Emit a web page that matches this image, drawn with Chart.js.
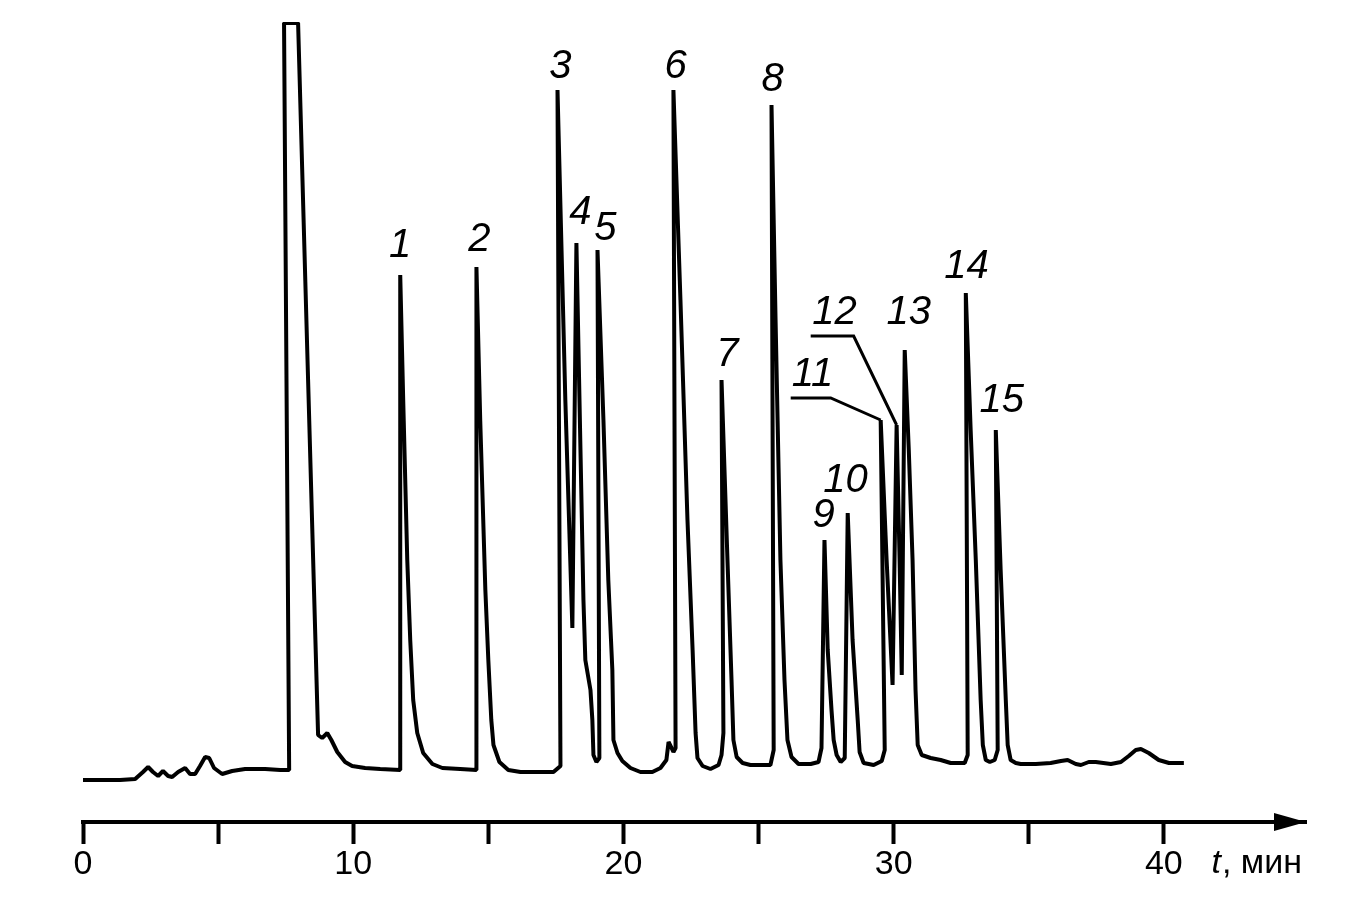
<!DOCTYPE html>
<html lang="ru">
<head>
<meta charset="utf-8">
<title>Хроматограмма</title>
<script src="https://cdn.jsdelivr.net/npm/chart.js@4.4.1/dist/chart.umd.min.js"></script>
<style>
    html, body { margin: 0; padding: 0; background: #fff; }
    #wrap { width: 1352px; height: 912px; }
</style>
</head>
<body>
<div id="wrap"><canvas id="chromChart" width="1352" height="912"></canvas></div>
<script>
// --- Data (time in min, detector signal in arbitrary units) ---
const TIME_MIN = [
    0.00, 1.37, 1.93, 2.22, 2.41, 2.59, 2.78, 2.96, 3.15, 3.30, 3.52, 3.78, 3.96, 4.15, 4.33, 4.52, 4.67, 4.85, 5.15, 5.52,
    6.00, 6.74, 7.30, 7.63, 7.44, 7.96, 8.33, 8.70, 8.85, 9.04, 9.19, 9.41, 9.70, 9.96, 10.44, 11.00,
    11.74, 11.74, 11.85, 12.00, 12.11, 12.22, 12.37, 12.59, 12.93, 13.30, 13.96,
    14.56, 14.56, 14.70, 14.89, 15.00, 15.11, 15.19, 15.41, 15.74, 16.19, 17.41, 17.67,
    17.56, 17.85, 18.11,
    18.26, 18.41, 18.52, 18.59, 18.78, 18.85, 18.89, 19.00, 19.11,
    19.04, 19.26, 19.44, 19.59, 19.63, 19.78, 19.96, 20.26, 20.63, 21.07, 21.37, 21.59, 21.67, 21.78, 21.85, 21.93,
    21.85, 22.11, 22.37, 22.56, 22.67, 22.74, 22.93, 23.22, 23.52, 23.63, 23.70,
    23.63, 23.74, 23.85, 24.00, 24.07, 24.19, 24.41, 24.70, 25.44, 25.56,
    25.48, 25.63, 25.81, 25.96, 26.07, 26.22, 26.48, 26.93, 27.22, 27.33,
    27.44, 27.56, 27.70, 27.78, 27.89, 28.04, 28.19,
    28.30, 28.48, 28.67, 28.74, 28.89, 29.26, 29.56, 29.67,
    29.52, 29.74, 29.96,
    30.11, 30.22, 30.30,
    30.41, 30.56, 30.70, 30.81, 30.89, 31.04, 31.37, 31.74, 32.11, 32.63, 32.74,
    32.67, 32.85, 33.04, 33.22, 33.30, 33.41, 33.56, 33.74, 33.85,
    33.78, 33.96, 34.15, 34.22, 34.33, 34.52, 34.70,
    35.26, 35.81, 36.19, 36.44, 36.74, 36.93, 37.22, 37.48, 38.04, 38.41, 38.70, 38.96, 39.15, 39.44, 39.81, 40.19, 40.74
];
const SIGNAL = [
    42, 42, 43, 50, 55, 50, 46, 51, 46, 45, 50, 54, 48, 48, 56, 65, 64, 54, 48, 51,
    53, 53, 52, 52, 799, 799, 442, 87, 84, 89, 82, 70, 60, 56, 54, 53,
    52, 547, 422, 262, 182, 122, 89, 69, 58, 54, 53,
    52, 555, 402, 232, 162, 102, 77, 60, 52, 50, 50, 56,
    732, 422, 194,
    579, 372, 222, 162, 132, 102, 67, 60, 64,
    572, 402, 242, 152, 82, 69, 61, 54, 50, 50, 54, 62, 80, 74, 70, 74,
    732, 522, 302, 172, 89, 64, 56, 53, 57, 67, 89,
    442, 352, 262, 142, 82, 65, 59, 57, 57, 72,
    717, 502, 262, 142, 82, 65, 58, 58, 60, 74,
    282, 172, 112, 82, 67, 60, 64,
    309, 182, 102, 70, 59, 57, 61, 72,
    402, 262, 137,
    397, 262, 147,
    472, 372, 262, 132, 77, 67, 64, 62, 59, 59, 67,
    529, 392, 262, 122, 77, 62, 60, 62, 72,
    392, 252, 122, 77, 62, 59, 58,
    58, 59, 61, 62, 58, 57, 60, 60, 58, 60, 66, 72, 73, 69, 62, 59, 59
];

// Peak numbers and where their labels sit (same units as the data)
const PEAK_LABELS = ['1', '2', '3', '4', '5', '6', '7', '8', '9', '10', '11', '12', '13', '14', '15'];
const LABEL_TIME = [11.74, 14.67, 17.67, 18.41, 19.33, 21.93, 23.85, 25.52, 27.41, 28.22, 27.00, 27.81, 30.56, 32.70, 34.00];
const LABEL_SIGNAL = [576, 582, 755, 609, 593, 755, 467, 742, 306, 341, 447, 509, 509, 555, 421];

// Leader lines for peaks 11 and 12
const LEADER_11_TIME = [26.19, 27.67, 29.52];
const LEADER_11_SIGNAL = [424, 424, 402];
const LEADER_12_TIME = [26.93, 28.52, 30.11];
const LEADER_12_SIGNAL = [486, 486, 397];

// Axis ticks
const X_MAX = 45.26;
const TICK_STEP = 5;
const LAST_TICK = 40;
const AXIS_TITLE_VAR = 't';
const AXIS_TITLE_UNIT = ', мин';

const FONT = '"Liberation Sans", Arial, Helvetica, sans-serif';

function toPoints(xs, ys) {
    return xs.map((x, i) => ({ x: x, y: ys[i] }));
}

// Labels, arrow and axis title drawn on top of the chart
const chromDecor = {
    id: 'chromDecor',
    afterDraw(chart) {
        const { ctx, chartArea, scales: { x, y } } = chart;
        ctx.save();
        ctx.fillStyle = '#000';

        // peak numbers
        ctx.font = 'italic 40px ' + FONT;
        ctx.textAlign = 'center';
        ctx.textBaseline = 'middle';
        PEAK_LABELS.forEach((txt, i) => {
            ctx.fillText(txt, x.getPixelForValue(LABEL_TIME[i]), y.getPixelForValue(LABEL_SIGNAL[i]));
        });

        // arrow head at the end of the time axis
        const ax = chartArea.right, ay = chartArea.bottom;
        ctx.beginPath();
        ctx.moveTo(ax - 32, ay - 9);
        ctx.lineTo(ax, ay);
        ctx.lineTo(ax - 32, ay + 9);
        ctx.closePath();
        ctx.fill();

        // "t, мин"
        ctx.textBaseline = 'middle';
        ctx.textAlign = 'left';
        ctx.font = '34px ' + FONT;
        const unitW = ctx.measureText(AXIS_TITLE_UNIT).width;
        const unitX = ax - 4 - unitW;
        ctx.fillText(AXIS_TITLE_UNIT, unitX, 864);
        ctx.font = 'italic 34px ' + FONT;
        ctx.textAlign = 'right';
        ctx.fillText(AXIS_TITLE_VAR, unitX - 1, 864);

        ctx.restore();
    }
};

const ctx = document.getElementById('chromChart').getContext('2d');
new Chart(ctx, {
    type: 'scatter',
    data: {
        datasets: [
            {
                data: toPoints(TIME_MIN, SIGNAL),
                showLine: true,
                borderColor: '#000',
                borderWidth: 4,
                borderJoinStyle: 'bevel',
                pointRadius: 0,
                tension: 0
            },
            {
                data: toPoints(LEADER_11_TIME, LEADER_11_SIGNAL),
                showLine: true,
                borderColor: '#000',
                borderWidth: 3,
                pointRadius: 0
            },
            {
                data: toPoints(LEADER_12_TIME, LEADER_12_SIGNAL),
                showLine: true,
                borderColor: '#000',
                borderWidth: 3,
                pointRadius: 0
            }
        ]
    },
    options: {
        responsive: false,
        animation: false,
        events: [],
        layout: { padding: { left: 83, right: 46, top: 22, bottom: 0 } },
        plugins: {
            legend: { display: false },
            tooltip: { enabled: false }
        },
        scales: {
            x: {
                type: 'linear',
                min: 0,
                max: X_MAX,
                border: { display: true, color: '#000', width: 4 },
                grid: {
                    drawOnChartArea: false,
                    drawTicks: true,
                    tickLength: 22,
                    tickWidth: 4,
                    tickColor: '#000'
                },
                ticks: {
                    stepSize: TICK_STEP,
                    includeBounds: false,
                    autoSkip: false,
                    maxRotation: 0,
                    padding: 0,
                    color: '#000',
                    font: { family: FONT, size: 34 },
                    callback: (v) => (v % 10 === 0 ? String(v) : '')
                },
                afterBuildTicks: (scale) => {
                    scale.ticks = scale.ticks.filter(t => t.value <= LAST_TICK);
                },
                afterFit: (scale) => { scale.height = 90; }
            },
            y: {
                display: false,
                min: 0,
                max: 800
            }
        }
    },
    plugins: [chromDecor]
});
</script>
</body>
</html>
